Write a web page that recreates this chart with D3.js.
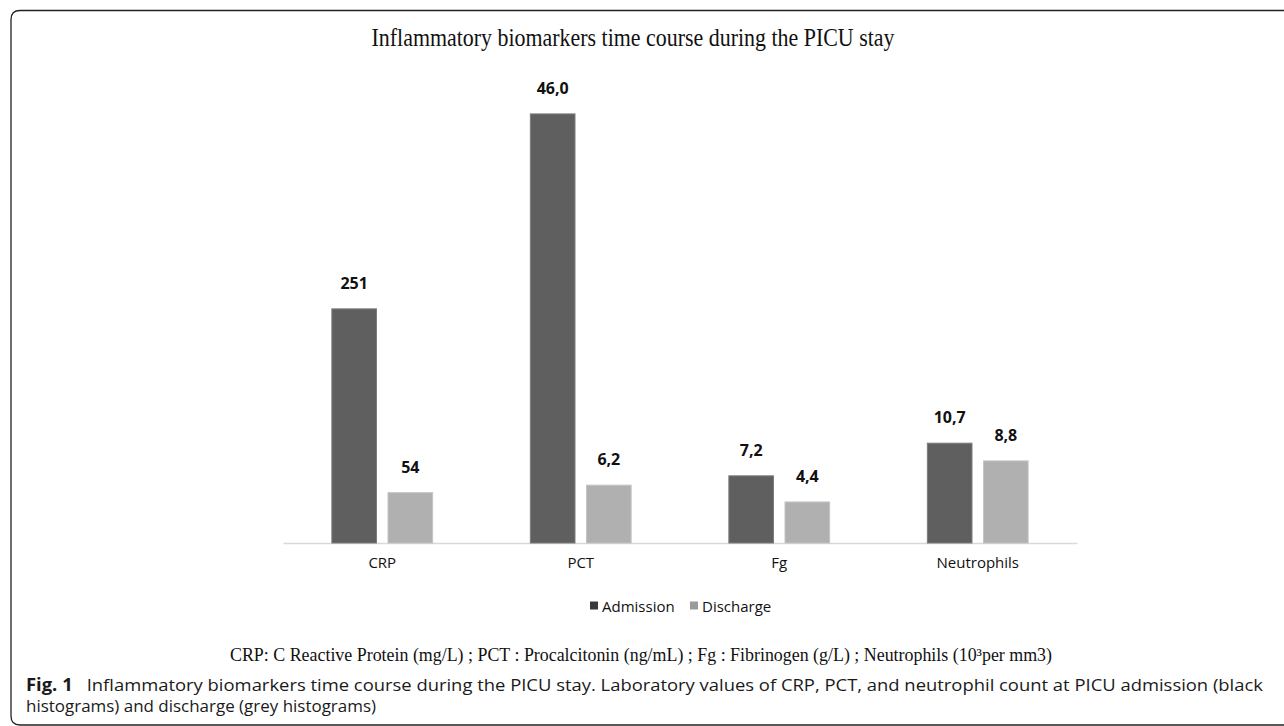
<!DOCTYPE html>
<html>
<head>
<meta charset="utf-8">
<script src="https://cdn.jsdelivr.net/npm/d3@7"></script>
<style>
  body { margin: 0; background: #fff; }
  svg { display: block; }
</style>
</head>
<body>
<svg id="chart" width="1284" height="726"></svg>
<script>
// values as plotted (CRP is drawn in tens of mg/L)
const categories = ['CRP', 'PCT', 'Fg', 'Neutrophils'];
const series = ['Admission', 'Discharge'];
const admission = [25.1, 46.0, 7.2, 10.7];
const discharge = [5.4, 6.2, 4.4, 8.8];
const admissionLabels = ['251', '46,0', '7,2', '10,7'];
const dischargeLabels = ['54', '6,2', '4,4', '8,8'];

const colors = { Admission: '#5f5f5f', Discharge: '#b0b0b0' };
const strokes = { Admission: '#7c7c7c', Discharge: '#c4c4c4' };

const svg = d3.select('#chart');

// frame around the figure
svg.append('path')
  .attr('d', 'M1290,10.5 H20 Q11,10.5 11,19.5 V716 Q11,725 20,725 H1290')
  .attr('fill', 'none')
  .attr('stroke', '#222')
  .attr('stroke-width', 1.3);

// title
svg.append('text')
  .attr('x', 633)
  .attr('y', 46)
  .attr('text-anchor', 'middle')
  .style('font-family', '"Liberation Serif", "Times New Roman", serif')
  .style('font-size', '25px')
  .attr('textLength', 523)
  .attr('lengthAdjust', 'spacingAndGlyphs')
  .attr('fill', '#111')
  .text('Inflammatory biomarkers time course during the PICU stay');

const rows = categories.map((c, i) => ({
  cat: c,
  vals: [
    { s: 'Admission', v: admission[i], label: admissionLabels[i] },
    { s: 'Discharge', v: discharge[i], label: dischargeLabels[i] }
  ]
}));

const x = d3.scaleBand()
  .domain(categories)
  .range([283, 1077])
  .padding(0);

const x1 = d3.scaleBand()
  .domain(series)
  .range([0, x.bandwidth()])
  .paddingInner(0.205)
  .paddingOuter(0.87);

const y = d3.scaleLinear()
  .domain([0, 50])
  .range([543, 76.6]);

// axis line + category labels
const xAxis = svg.append('g')
  .attr('transform', 'translate(0,543)')
  .call(d3.axisBottom(x).tickSize(0).tickPadding(14));
xAxis.select('.domain').attr('stroke', '#d9d9d9').attr('stroke-width', 1.5);
xAxis.selectAll('text')
  .style('font-family', '"Open Sans", sans-serif')
  .style('font-size', '15px')
  .attr('fill', '#111');

// bars
const groups = svg.selectAll('.grp')
  .data(rows)
  .enter()
  .append('g')
  .attr('class', 'grp')
  .attr('transform', d => 'translate(' + x(d.cat) + ',0)');

groups.selectAll('rect')
  .data(d => d.vals)
  .enter()
  .append('rect')
  .attr('x', d => x1(d.s))
  .attr('y', d => y(d.v))
  .attr('width', x1.bandwidth())
  .attr('height', d => y(0) - y(d.v))
  .attr('fill', d => colors[d.s])
  .attr('stroke', d => strokes[d.s])
  .attr('stroke-width', 1);

// value labels
groups.selectAll('.val')
  .data(d => d.vals)
  .enter()
  .append('text')
  .attr('class', 'val')
  .attr('x', d => x1(d.s) + x1.bandwidth() / 2)
  .attr('y', d => y(d.v) - 20)
  .attr('text-anchor', 'middle')
  .style('font-family', '"Open Sans", sans-serif')
  .style('font-weight', 'bold')
  .style('font-size', '16px')
  .attr('fill', '#111')
  .text(d => d.label);

// legend
const legend = svg.append('g').attr('transform', 'translate(590,606)');
const legendX = [0, 100];
series.forEach((s, i) => {
  const g = legend.append('g').attr('transform', 'translate(' + legendX[i] + ',0)');
  g.append('rect')
    .attr('x', 0).attr('y', -4.5)
    .attr('width', 8).attr('height', 8)
    .attr('fill', s === 'Admission' ? '#3a3a3a' : '#9a9a9a');
  g.append('text')
    .attr('x', 12)
    .attr('y', 5.5)
    .style('font-family', '"Open Sans", sans-serif')
    .style('font-size', '15px')
    .attr('fill', '#111')
    .text(s);
});

// footnote under the chart
svg.append('text')
  .attr('x', 641)
  .attr('y', 661)
  .attr('text-anchor', 'middle')
  .style('font-family', '"Liberation Serif", "Times New Roman", serif')
  .style('font-size', '18px')
  .attr('fill', '#111')
  .attr('textLength', 822)
  .attr('lengthAdjust', 'spacingAndGlyphs')
  .text('CRP: C Reactive Protein (mg/L) ; PCT : Procalcitonin (ng/mL) ; Fg : Fibrinogen (g/L) ; Neutrophils (10\u00b3per mm3)');

// figure caption
const cap1 = svg.append('text')
  .attr('x', 26)
  .attr('y', 691)
  .style('font-family', '"Open Sans", sans-serif')
  .style('font-size', '17px')
  .attr('fill', '#1a1a1a')
  .attr('textLength', 1237)
  .attr('lengthAdjust', 'spacingAndGlyphs');
cap1.append('tspan').style('font-weight', 'bold').text('Fig. 1');
cap1.append('tspan').text('\u2002 Inflammatory biomarkers time course during the PICU stay. Laboratory values of CRP, PCT, and neutrophil count at PICU admission (black');

svg.append('text')
  .attr('x', 26)
  .attr('y', 712)
  .style('font-family', '"Open Sans", sans-serif')
  .style('font-size', '17px')
  .attr('fill', '#1a1a1a')
  .attr('textLength', 350)
  .attr('lengthAdjust', 'spacingAndGlyphs')
  .text('histograms) and discharge (grey histograms)');
</script>
</body>
</html>
